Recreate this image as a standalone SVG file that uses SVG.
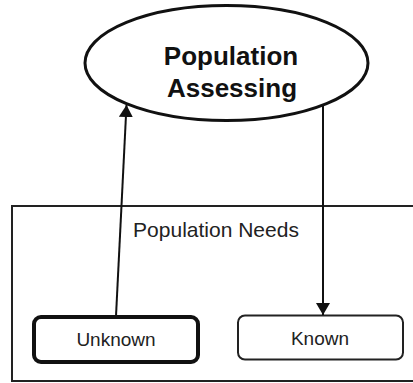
<svg xmlns="http://www.w3.org/2000/svg" width="413" height="383" viewBox="0 0 413 383">
<defs>
<style>
.sans{font-family:"Liberation Sans",Arial,sans-serif;fill:#222;}
.title{font-size:26px;font-weight:bold;text-anchor:middle;fill:#111;}
.lbl{font-size:19px;text-anchor:middle;}
.line{stroke:#111;stroke-width:2;fill:none;}
</style>
<marker id="arr" viewBox="0 0 12 14" refX="12" refY="7" markerWidth="12" markerHeight="14" markerUnits="userSpaceOnUse" orient="auto">
<path d="M0,0 L12,7 L0,14 Z" fill="#111"/>
</marker>
</defs>
<rect width="413" height="383" fill="#fff"/>
<g id="population-needs">
<rect x="12" y="206" width="420" height="175" fill="none" stroke="#222" stroke-width="2"/>
<text class="sans lbl" x="216" y="237" style="font-size:21px">Population Needs</text>
</g>
<g id="population-assessing">
<ellipse cx="226.5" cy="63" rx="141.5" ry="57.5" fill="#fff" stroke="#111" stroke-width="3"/>
<text class="sans title" x="231" y="65">Population</text>
<text class="sans title" x="232" y="97">Assessing</text>
</g>
<g id="unknown">
<rect x="34" y="317" width="164" height="45" rx="7" fill="#fff" stroke="#111" stroke-width="4"/>
<text class="sans lbl" x="116" y="346">Unknown</text>
</g>
<g id="known">
<rect x="238" y="315.5" width="165" height="44" rx="7" fill="#fff" stroke="#222" stroke-width="2"/>
<text class="sans lbl" x="320" y="345">Known</text>
</g>
<g id="connectors">
<line class="line" x1="116" y1="316" x2="126.5" y2="105" marker-end="url(#arr)"/>
<line class="line" x1="323" y1="104" x2="323" y2="315" marker-end="url(#arr)"/>
</g>
</svg>
